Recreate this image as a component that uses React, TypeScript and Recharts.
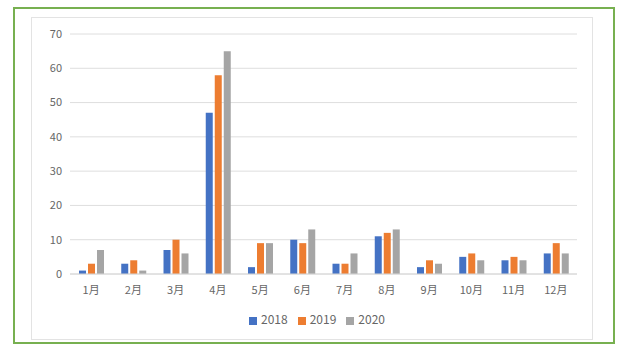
import React from "react";
import { BarChart, Bar, XAxis, YAxis, CartesianGrid, Legend } from "recharts";

const months = ["1月", "2月", "3月", "4月", "5月", "6月", "7月", "8月", "9月", "10月", "11月", "12月"];
const s2018 = [1, 3, 7, 47, 2, 10, 3, 11, 2, 5, 4, 6];
const s2019 = [3, 4, 10, 58, 9, 9, 3, 12, 4, 6, 5, 9];
const s2020 = [7, 1, 6, 65, 9, 13, 6, 13, 3, 4, 4, 6];
const yTicks = [0, 10, 20, 30, 40, 50, 60, 70];

const data = months.map((m, i) => ({ month: m, "2018": s2018[i], "2019": s2019[i], "2020": s2020[i] }));

const font = "'Noto Sans CJK SC', 'Noto Sans', sans-serif";

export default function App() {
  return (
    <div style={{ position: "absolute", left: 0, top: 0, width: 628, height: 351, background: "#fff", fontFamily: font }}>
      <div style={{ position: "absolute", left: 13, top: 7, width: 598, height: 333, border: "2px solid #77b050" }} />
      <div style={{ position: "absolute", left: 31, top: 17, width: 560, height: 321, border: "1px solid #e3e3e3" }} />
      <div style={{ position: "absolute", left: 0, top: 0 }}>
        <BarChart
          width={628}
          height={351}
          data={data}
          margin={{ top: 34, right: 51, left: 0, bottom: 30 }}
          barGap={2}
          barCategoryGap="19%"
        >
          <CartesianGrid vertical={false} stroke="#dedede" />
          <XAxis
            dataKey="month"
            axisLine={{ stroke: "#d6d6d6" }}
            tickLine={false}
            tickMargin={6}
            tick={{ fill: "#666", fontSize: 11, fontFamily: font }}
            height={30}
          />
          <YAxis
            domain={[0, 70]}
            ticks={yTicks}
            width={70}
            axisLine={false}
            tickLine={false}
            tick={{ fill: "#666", fontSize: 11, fontFamily: font }}
          />
          <Legend
            verticalAlign="bottom"
            iconType="square"
            iconSize={8}
            wrapperStyle={{ fontSize: 12, color: "#666", fontFamily: font, left: 8, width: 628, top: 310, bottom: "auto" }}
            formatter={(v) => <span style={{ color: "#666" }}>{v}</span>}
          />
          <Bar dataKey="2018" fill="#4472c4" barSize={7} isAnimationActive={false} />
          <Bar dataKey="2019" fill="#ed7d31" barSize={7} isAnimationActive={false} />
          <Bar dataKey="2020" fill="#a5a5a5" barSize={7} isAnimationActive={false} />
        </BarChart>
      </div>
    </div>
  );
}
